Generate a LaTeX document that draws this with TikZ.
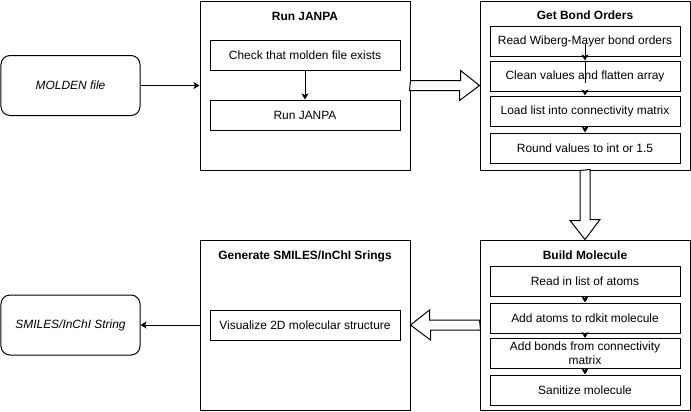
\documentclass[tikz,border=0pt]{standalone}
\usepackage{fontspec}
\setmainfont{Liberation Sans}
\usetikzlibrary{arrows.meta,calc}

\begin{document}
\begin{tikzpicture}[x=1bp,y=-1bp,line width=1bp,
        font=\fontsize{12}{14}\selectfont,
        every node/.style={inner sep=0pt},
        outerbox/.style={draw,minimum width=210bp},
        innerbox/.style={draw,fill=white,minimum width=190bp,minimum height=30bp,align=center},
        roundbox/.style={draw,rounded corners=9bp,minimum width=139bp,minimum height=60bp,font=\fontsize{12}{14}\selectfont\itshape},
        heading/.style={font=\fontsize{12}{14}\selectfont\bfseries},
        fatarrow/.style={draw,fill=white,line join=miter},
        >={Stealth[length=6bp,width=7bp,inset=1.5bp]}]
    \useasboundingbox (0,0) rectangle (691,411);

    \node [roundbox] (molden) at (70.5,85.5) {MOLDEN file};
    \node [roundbox] (smiles) at (70.5,325) {SMILES/InChI String};

    \node [outerbox,minimum height=169bp] (janpa) at (305,85.5) {};
    \node [heading] (janpatitle) at (305,16) {Run JANPA};
    \node [innerbox] (check) at (305,55) {Check that molden file exists};
    \node [innerbox] (runjanpa) at (305,115) {Run JANPA};

    \node [outerbox,minimum height=169bp] (bonds) at (585,85.5) {};
    \node [heading] (bondstitle) at (585,15) {Get Bond Orders};
    \node [innerbox] (readbo) at (585,41) {Read Wiberg-Mayer bond orders};
    \node [innerbox] (clean) at (585,76) {Clean values and flatten array};
    \node [innerbox] (load) at (585,111) {Load list into connectivity matrix};
    \node [innerbox] (round) at (585,148) {Round values to int or 1.5};

    \node [outerbox,minimum height=170bp] (build) at (585,325) {};
    \node [heading] (buildtitle) at (585,255) {Build Molecule};
    \node [innerbox] (readatoms) at (585,281.5) {Read in list of atoms};
    \node [innerbox] (addatoms) at (585,318) {Add atoms to rdkit molecule};
    \node [innerbox] (addbonds) at (585,353.5) {Add bonds from connectivity\\matrix};
    \node [innerbox] (sanitize) at (585,390) {Sanitize molecule};

    \node [outerbox,minimum height=170bp] (generate) at (305,325) {};
    \node [heading] (generatetitle) at (305,256) {Generate SMILES/InChI Srings};
    \node [innerbox] (visualize) at (305,325) {Visualize 2D molecular structure};

    % block arrows between the stages
    \draw [fatarrow] ($(janpa.east)+(0,-5)$) -- ++(50,0) -- ++(0,-10) -- (bonds.west) -- ++(-20,15) -- ++(0,-10) -- ++(-50,0) -- cycle;
    \draw [fatarrow] ($(bonds.south)+(-5,0)$) -- ++(0,50) -- ++(-10,0) -- (build.north) -- ++(15,-20) -- ++(-10,0) -- ++(0,-50) -- cycle;
    \draw [fatarrow] ($(build.west)+(0,-5)$) -- ++(-50,0) -- ++(0,-10) -- (generate.east) -- ++(20,15) -- ++(0,-10) -- ++(50,0) -- cycle;

    \draw [->] (molden) -- (janpa);
    \draw [->] (check) -- (runjanpa);
    \draw [->] ($(readbo.center)+(0,3)$) -- (clean.north);
    \draw (clean.north) -- ($(clean.center)+(0,7)$);
    \draw [->] (clean) -- (load);
    \draw [->] (load) -- (round);
    \draw [->] (readatoms) -- (addatoms);
    \draw [->] (addatoms) -- (addbonds);
    \draw [->] (addbonds) -- (sanitize);
    \draw [->] (generate) -- (smiles);
\end{tikzpicture}
\end{document}
